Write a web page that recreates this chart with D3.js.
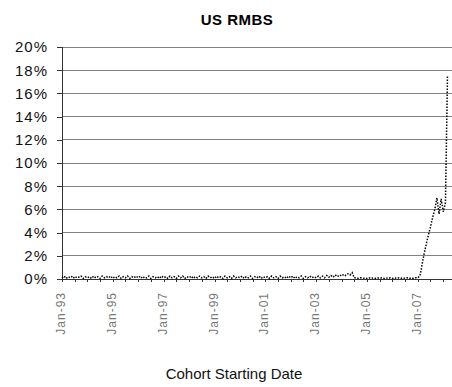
<!DOCTYPE html>
<html><head><meta charset="utf-8">
<script src="https://cdn.jsdelivr.net/npm/d3@7"></script>
<style>body{margin:0;background:#fff}svg{display:block}</style>
</head><body>
<svg id="c" width="452" height="387"></svg>
<script>
const title = "US RMBS";
const xTitle = "Cohort Starting Date";
const yTicks = [0, 2, 4, 6, 8, 10, 12, 14, 16, 18, 20];
const xTickLabels = ["Jan-93","Jan-95","Jan-97","Jan-99","Jan-01","Jan-03","Jan-05","Jan-07"];
const firstCohort = "1993-01";
const rates = [
  0.1,0.25,0.05,0.2,0.1,0.25,0.05,0.2,0.15,0.25,0.05,0.2,
  0.1,0.2,0.05,0.25,0.1,0.2,0.05,0.25,0.1,0.2,0.1,0.25,
  0.05,0.2,0.1,0.25,0.05,0.2,0.1,0.25,0.05,0.2,0.1,0.25,
  0.1,0.25,0.05,0.2,0.1,0.25,0.05,0.2,0.1,0.2,0.05,0.25,
  0.1,0.2,0.05,0.25,0.1,0.2,0.05,0.25,0.1,0.25,0.05,0.2,
  0.1,0.25,0.05,0.2,0.1,0.25,0.1,0.2,0.05,0.25,0.1,0.2,
  0.05,0.25,0.1,0.2,0.05,0.25,0.1,0.2,0.05,0.25,0.1,0.2,
  0.1,0.25,0.05,0.2,0.1,0.25,0.05,0.2,0.1,0.25,0.05,0.2,
  0.1,0.2,0.05,0.25,0.1,0.2,0.05,0.25,0.1,0.2,0.05,0.25,
  0.1,0.25,0.05,0.2,0.1,0.25,0.05,0.2,0.1,0.25,0.1,0.2,
  0.1,0.25,0.1,0.25,0.1,0.3,0.15,0.3,0.15,0.35,0.2,0.35,
  0.25,0.4,0.3,0.45,0.35,0.55,0.1,0.1,0.05,0.1,0.05,0.1,
  0.05,0.1,0.05,0.1,0.05,0.1,0.05,0.1,0.05,0.1,0.05,0.1,
  0.05,0.1,0.05,0.1,0.05,0.1,0.05,0.1,0.05,0.1,0.05,0.1,
  0.1,0.3,1.2,2.2,3.0,3.8,4.5,5.3,6.0,7.0,5.6,6.9,
  5.8,6.6,17.5
];

const parse = d3.timeParse("%Y-%m");
const start = parse(firstCohort);
const data = rates.map((v, i) => ({ date: d3.timeMonth.offset(start, i), v }));

const svg = d3.select("#c");
const mLeft = 62, mRight = 452, mTop = 47, mBottom = 279;
const x = d3.scaleTime().domain([start, new Date(2008, 4, 5)]).range([mLeft, mRight]);
const y = d3.scaleLinear().domain([0, 20]).range([mBottom, mTop]);
const font = "'Liberation Sans', Arial, sans-serif";

svg.append("text").attr("x", 237).attr("y", 25).attr("text-anchor", "middle")
  .attr("font-family", font).attr("font-weight", "bold").attr("font-size", 15)
  .attr("letter-spacing", 0.5).text(title);

// gridlines
svg.append("g").selectAll("line").data(yTicks.filter(d => d > 0)).join("line")
  .attr("x1", mLeft).attr("x2", mRight).attr("y1", d => y(d)).attr("y2", d => y(d))
  .attr("stroke", "#808080").attr("stroke-width", 1).attr("shape-rendering", "crispEdges");

// y axis
const yAxis = d3.axisLeft(y).tickValues(yTicks).tickFormat(d => d + "%").tickSize(5).tickPadding(9);
const gy = svg.append("g").attr("transform", `translate(${mLeft},0)`).call(yAxis);
gy.select(".domain").attr("stroke", "#333").attr("shape-rendering", "crispEdges");
gy.selectAll(".tick line").attr("stroke", "#333").attr("shape-rendering", "crispEdges");
gy.selectAll("text").attr("font-family", font).attr("font-size", 15).attr("letter-spacing", 1).attr("fill", "#111");

// x axis
const labelDates = xTickLabels.map(s => d3.timeParse("%b-%y")(s));
const minor = d3.timeMonth.every(6).range(start, new Date(2008, 5, 1));
const xAxis = d3.axisBottom(x).tickValues(minor).tickSize(3).tickFormat("");
const gx = svg.append("g").attr("transform", `translate(0,${mBottom})`).call(xAxis);
gx.select(".domain").attr("stroke", "#333").attr("shape-rendering", "crispEdges");
gx.selectAll(".tick line").attr("stroke", "#333").attr("shape-rendering", "crispEdges");

svg.append("g").selectAll("text").data(labelDates).join("text")
  .attr("transform", d => `translate(${x(d) + 3},${mBottom + 13}) rotate(-90)`)
  .attr("text-anchor", "end").attr("font-family", font).attr("font-size", 12)
  .attr("letter-spacing", 1).attr("fill", "#777").text((d, i) => xTickLabels[i]);

// series
svg.append("path").datum(data)
  .attr("d", d3.line().x(d => x(d.date)).y(d => y(d.v)))
  .attr("fill", "none").attr("stroke", "#000").attr("stroke-width", 1.5)
  .attr("stroke-dasharray", "1.5,1.5");

svg.append("text").attr("x", 234).attr("y", 379).attr("text-anchor", "middle")
  .attr("font-family", font).attr("font-size", 15).attr("fill", "#111").text(xTitle);
</script>
</body></html>
